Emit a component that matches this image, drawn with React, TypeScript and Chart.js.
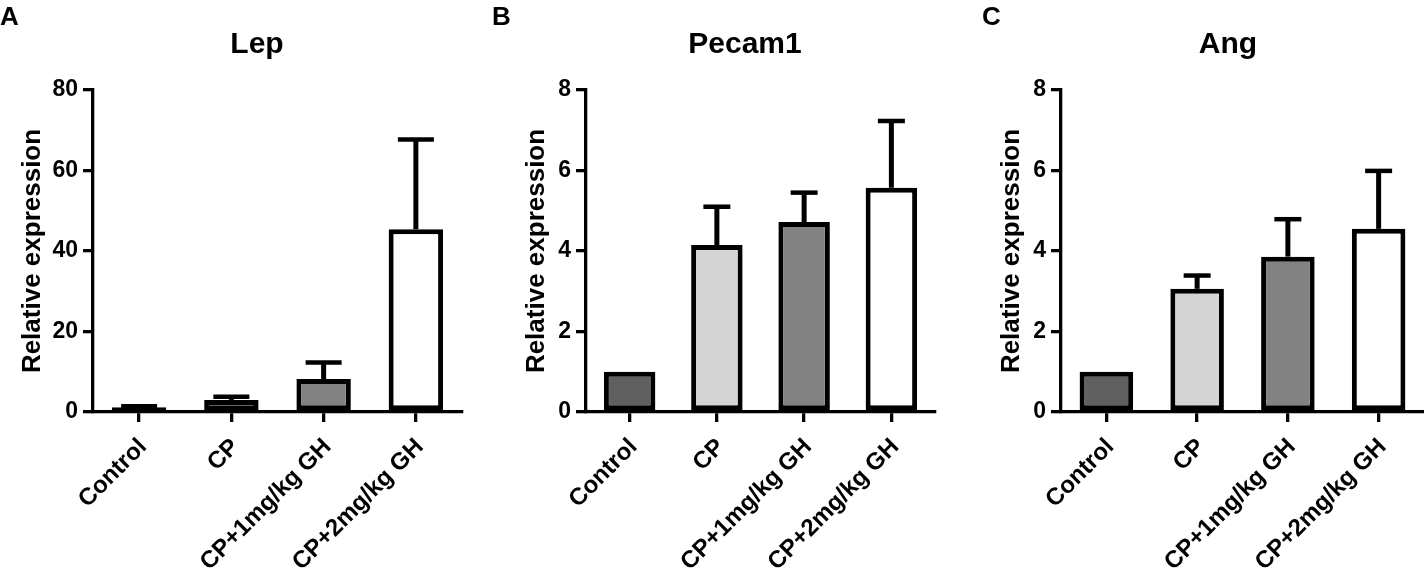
import React, { useEffect, useRef } from "react";
import { Chart, registerables } from "chart.js";

Chart.register(...registerables);

// ---- data ----
const categories = ["Control", "CP", "CP+1mg/kg GH", "CP+2mg/kg GH"];
const lepValues = [1.2, 3.0, 8.2, 45.4];
const lepErrors = [0.2, 0.8, 4.1, 22.3];
const pecam1Values = [1.0, 4.15, 4.72, 5.57];
const pecam1Errors = [0, 0.95, 0.73, 1.66];
const angValues = [1.0, 3.06, 3.86, 4.55];
const angErrors = [0, 0.33, 0.93, 1.44];
const lepTicks = [0, 20, 40, 60, 80];
const foldTicks = [0, 2, 4, 6, 8];
const panelLetters = ["A", "B", "C"];
const panelTitles = ["Lep", "Pecam1", "Ang"];
const yAxisTitle = "Relative expression";

const barColors = ["#606060", "#d4d4d4", "#828282", "#ffffff"];
const FONT = "'Liberation Sans', Arial, Helvetica, sans-serif";

type Panel = {
  letter: string;
  title: string;
  values: number[];
  errors: number[];
  ticks: number[];
  left: number;
  width: number;
  axisW: number;
  padRight: number;
  titleX: number;
  letterX: number;
  yTitlePad: number;
  capWidth: number;
};

const panels: Panel[] = [
  { letter: panelLetters[0], title: panelTitles[0], values: lepValues, errors: lepErrors, ticks: lepTicks,
    left: 0, width: 478, axisW: 93, padRight: 16, titleX: 257, letterX: 0, yTitlePad: 17, capWidth: 36 },
  { letter: panelLetters[1], title: panelTitles[1], values: pecam1Values, errors: pecam1Errors, ticks: foldTicks,
    left: 478, width: 472, axisW: 108, padRight: 15, titleX: 745 - 478, letterX: 492 - 478, yTitlePad: 43, capWidth: 27 },
  { letter: panelLetters[2], title: panelTitles[2], values: angValues, errors: angErrors, ticks: foldTicks,
    left: 950, width: 474, axisW: 111, padRight: 0, titleX: 1228 - 950, letterX: 982 - 950, yTitlePad: 46, capWidth: 27 },
];

const HEIGHT = 578;
const TOP = 90;
const BOTTOM = 412;

const errorBarPlugin = {
  id: "errorBars",
  afterDatasetsDraw(chart: any, _args: any, opts: any) {
    const { ctx } = chart;
    const meta = chart.getDatasetMeta(0);
    const y = chart.scales.y;
    const ds = chart.data.datasets[0];
    const errs: number[] = ds.errors || [];
    const cw = opts.capWidth || 28;
    ctx.save();
    ctx.strokeStyle = "#000";
    ctx.lineCap = "butt";
    meta.data.forEach((bar: any, i: number) => {
      const e = errs[i];
      if (!e) return;
      const v = ds.data[i];
      const top = y.getPixelForValue(v + e);
      const base = y.getPixelForValue(v);
      ctx.lineWidth = 5;
      ctx.beginPath();
      ctx.moveTo(bar.x, base);
      ctx.lineTo(bar.x, top);
      ctx.stroke();
      ctx.lineWidth = 4.5;
      ctx.beginPath();
      ctx.moveTo(bar.x - cw / 2, top);
      ctx.lineTo(bar.x + cw / 2, top);
      ctx.stroke();
    });
    ctx.restore();
  },
};

const labelPlugin = {
  id: "panelLabels",
  afterDraw(chart: any, _args: any, opts: any) {
    const { ctx } = chart;
    ctx.save();
    ctx.fillStyle = "#000";
    ctx.textBaseline = "alphabetic";
    ctx.textAlign = "left";
    ctx.font = `bold 26px ${FONT}`;
    ctx.fillText(opts.letter, opts.letterX, 25);
    ctx.textAlign = "center";
    ctx.font = `bold 30px ${FONT}`;
    ctx.fillText(opts.title, opts.titleX, 53);
    ctx.restore();
  },
};

function PanelChart({ p }: { p: Panel }) {
  const ref = useRef<HTMLCanvasElement | null>(null);
  useEffect(() => {
    if (!ref.current) return;
    const max = p.ticks[p.ticks.length - 1];
    const step = p.ticks[1] - p.ticks[0];
    const chart = new Chart(ref.current, {
      type: "bar",
      data: {
        labels: categories,
        datasets: [
          {
            data: p.values,
            errors: p.errors,
            backgroundColor: barColors,
            borderColor: "#000",
            borderWidth: 5,
            borderSkipped: false,
            barPercentage: 0.59,
            categoryPercentage: 1,
          } as any,
        ],
      },
      options: {
        animation: false,
        responsive: false,
        devicePixelRatio: 1,
        layout: { padding: { top: TOP, left: 0, right: p.padRight, bottom: 0 } },
        plugins: {
          legend: { display: false },
          tooltip: { enabled: false },
          title: { display: false },
          errorBars: { capWidth: p.capWidth },
          panelLabels: { letter: p.letter, title: p.title, titleX: p.titleX, letterX: p.letterX },
        } as any,
        scales: {
          x: {
            offset: true,
            grid: { display: true, offset: false, drawOnChartArea: false, drawTicks: true, tickLength: 10, lineWidth: 3.3, color: "#000" },
            border: { display: true, width: 3.3, color: "#000" },
            ticks: { color: "#000", font: { family: FONT, size: 24, weight: "bold" }, minRotation: 45, maxRotation: 45, padding: 11, labelOffset: 4 },
            afterFit: (scale: any) => { scale.height = HEIGHT - BOTTOM; },
          },
          y: {
            min: 0,
            max,
            ticks: { stepSize: step, color: "#000", font: { family: FONT, size: 23, weight: "bold" }, padding: 5 },
            grid: { display: true, drawOnChartArea: false, drawTicks: true, tickLength: 10, lineWidth: 3.3, color: "#000" },
            border: { display: true, width: 3.3, color: "#000" },
            title: {
              display: true,
              text: yAxisTitle,
              color: "#000",
              font: { family: FONT, size: 26, weight: "bold", lineHeight: 1.2 },
              padding: { top: p.yTitlePad, bottom: 0 },
            },
            afterFit: (scale: any) => { scale.width = p.axisW; },
          },
        },
      } as any,
      plugins: [errorBarPlugin, labelPlugin],
    });
    return () => chart.destroy();
  }, [p]);
  return (
    <canvas
      ref={ref}
      width={p.width}
      height={HEIGHT}
      style={{ position: "absolute", left: p.left, top: 0, width: p.width, height: HEIGHT }}
    />
  );
}

export default function App() {
  return (
    <div style={{ position: "absolute", left: 0, top: 0, width: 1424, height: HEIGHT, background: "#fff", overflow: "hidden" }}>
      {panels.map((p) => (
        <PanelChart key={p.letter} p={p} />
      ))}
    </div>
  );
}
